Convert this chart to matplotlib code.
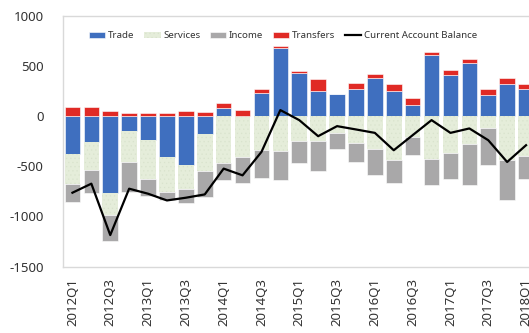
import numpy as np
import matplotlib
matplotlib.use('Agg')
import matplotlib.pyplot as plt

plt.rcParams['font.family'] = ['Noto Sans', 'DejaVu Sans']
plt.rcParams['hatch.linewidth'] = 0.4

quarters = ['2012Q1', '2012Q2', '2012Q3', '2012Q4', '2013Q1', '2013Q2', '2013Q3', '2013Q4',
            '2014Q1', '2014Q2', '2014Q3', '2014Q4', '2015Q1', '2015Q2', '2015Q3', '2015Q4',
            '2016Q1', '2016Q2', '2016Q3', '2016Q4', '2017Q1', '2017Q2', '2017Q3', '2017Q4',
            '2018Q1']
trade = [-380, -257, -767, -153, -240, -407, -490, -180, 77, 0, 233, 677, 427,
         253, 220, 267, 377, 250, 110, 610, 410, 527, 210, 317, 273]
services = [-300, -276, -223, -304, -383, -350, -233, -367, -467, -407, -340, -347, -250,
            -250, -167, -267, -323, -433, -213, -423, -367, -280, -117, -440, -400]
income = [-177, -234, -250, -300, -177, -76, -140, -260, -166, -260, -277, -293, -217,
          -297, -156, -190, -267, -234, -170, -267, -263, -410, -373, -400, -223]
transfers = [87, 93, 47, 33, 27, 33, 53, 37, 50, 60, 34, 23, 26,
             114, 0, 60, 43, 67, 73, 33, 50, 43, 57, 60, 47]
balance = [-763, -673, -1185, -723, -773, -840, -813, -780, -523, -590, -357, 60, -40,
           -200, -100, -133, -167, -340, -190, -40, -167, -123, -240, -457, -290]

series = [('Trade', trade, '#3f6fbf', None),
          ('Services', services, '#e5edda', '....'),
          ('Income', income, '#a9a8a9', None),
          ('Transfers', transfers, '#e02a25', None)]

fig = plt.figure(figsize=(5.29, 3.33), dpi=100)
ax = fig.add_axes([63 / 529, 1 - 266.7 / 333, 472.5 / 529, (266.7 - 15.7) / 333])

x = np.arange(len(quarters))
pos_bottom = np.zeros(len(quarters))
neg_bottom = np.zeros(len(quarters))
handles = []
for name, vals, col, hatch in series:
    v = np.array(vals, dtype=float)
    bottom = np.where(v >= 0, pos_bottom, neg_bottom)
    b = ax.bar(x, v, 0.83, bottom=bottom, color=col, label=name, hatch=hatch,
               edgecolor='white' if hatch is None else '#d9e3cd',
               linewidth=0.0 if hatch else 0.4, zorder=2)
    handles.append(b)
    pos_bottom += np.where(v >= 0, v, 0)
    neg_bottom += np.where(v < 0, v, 0)

line, = ax.plot(x, balance, color='black', lw=1.6, label='Current Account Balance', zorder=3)
handles.append(line)

ax.set_xlim(-0.5, len(quarters) - 0.5)
ax.set_ylim(-1500, 1000)
ax.set_yticks([-1500, -1000, -500, 0, 500, 1000])
ax.set_yticklabels(['-1500', '-1000', '-500', '0', '500', '1000'])
ax.set_xticks(x[::2])
ax.set_xticklabels(quarters[::2], rotation=90)
ax.tick_params(axis='y', length=0, pad=14, labelsize=9.5, labelcolor='#333333')
ax.tick_params(axis='x', length=0, pad=8, labelsize=9.5, labelcolor='#333333')
for s in ['top', 'left', 'bottom', 'right']:
    ax.spines[s].set_color('#d9d9d9')
    ax.spines[s].set_linewidth(1.0)

ax.legend(handles=handles, loc='center', bbox_to_anchor=(283 / 529, 1 - 36 / 333),
          bbox_transform=fig.transFigure, ncol=5, frameon=False, fontsize=7,
          handlelength=1.7, handleheight=0.5, handletextpad=0.25, columnspacing=1.0,
          labelcolor='#333333')

fig.savefig('out.png', dpi=100)
